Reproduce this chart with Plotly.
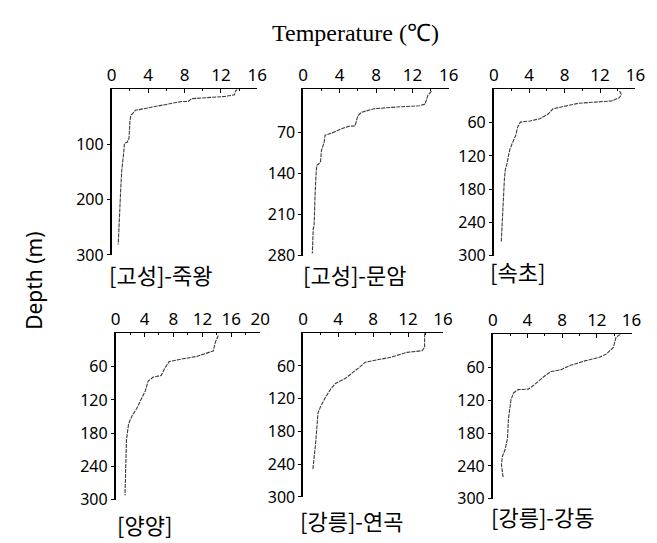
import plotly.graph_objects as go

W, H = 657, 543

# ---- data (temperature °C, depth m) ----
t1 = [13.8, 13.6, 13.5, 12.4, 8.8, 8.4, 7.7, 6.2, 4.8, 3.7, 2.6, 2.3, 2.1, 2.0, 1.9, 1.7, 1.4, 1.3, 1.1, 1.0, 0.9, 0.83, 0.72]
d1 = [0, 3, 10, 13, 17, 22, 22, 27, 31, 34, 38, 44, 47, 59, 89, 96, 98, 118, 148, 178, 213, 237, 281]

t2 = [14.1, 13.7, 13.4, 12.8, 10.3, 7.8, 6.4, 6.0, 5.7, 5.0, 4.2, 3.2, 2.4, 2.3, 2.0, 1.9, 1.5, 1.4, 1.3, 1.2, 1.1, 1.0]
d2 = [0, 7, 22, 25, 27, 30, 36, 42, 59, 60, 64, 71, 75, 87, 101, 121, 126, 143, 177, 228, 234, 276]

t3 = [14.2, 14.4, 14.2, 13.3, 9.6, 8.5, 6.7, 6.1, 5.2, 4.1, 3.0, 2.7, 2.5, 2.1, 1.8, 1.5, 1.3, 1.2, 1.1, 1.0, 0.9, 0.85]
d3 = [3, 9, 15, 21, 25, 29, 35, 45, 53, 57, 59, 68, 82, 97, 109, 133, 145, 162, 189, 224, 241, 274]

t4 = [14.2, 13.8, 13.5, 12.4, 11.1, 9.3, 7.4, 6.8, 6.3, 5.2, 4.5, 4.1, 3.4, 2.9, 2.3, 1.8, 1.5, 1.4, 1.3]
d4 = [4, 16, 32, 36, 42, 46, 51, 63, 76, 79, 86, 104, 122, 136, 148, 163, 192, 228, 292]

t5 = [13.9, 13.9, 13.6, 11.9, 10.0, 8.2, 7.1, 6.7, 5.8, 4.8, 3.7, 3.2, 2.6, 2.0, 1.7, 1.6, 1.4, 1.2, 1.1]
d5 = [0, 26, 32, 35, 44, 50, 53, 59, 71, 83, 92, 101, 116, 134, 146, 169, 205, 235, 250]

t6 = [14.7, 14.2, 13.9, 13.1, 12.3, 10.5, 8.9, 7.8, 6.7, 5.9, 4.8, 4.1, 2.9, 2.4, 2.1, 2.0, 1.8, 1.7, 1.4, 1.1, 1.0, 1.05, 1.2]
d6 = [0, 6, 24, 36, 42, 49, 57, 65, 68, 77, 92, 100, 101, 107, 119, 131, 155, 190, 211, 223, 238, 244, 262]

temps = [t1, t2, t3, t4, t5, t6]
depths = [d1, d2, d3, d4, d5, d6]
labels = ["[고성]-죽왕", "[고성]-문암", "[속초]", "[양양]", "[강릉]-연곡", "[강릉]-강동"]

x_ticks = [[0, 4, 8, 12, 16]] * 3 + [[0, 4, 8, 12, 16, 20], [0, 4, 8, 12, 16], [0, 4, 8, 12, 16]]
x_ranges = [[0, 16]] * 3 + [[0, 20], [0, 16], [0, 16]]
y_ticks = [[100, 200, 300], [70, 140, 210, 280], [60, 120, 180, 240, 300],
           [60, 120, 180, 240, 300], [60, 120, 180, 240, 300], [60, 120, 180, 240, 300]]
y_ranges = [[300, 0], [280, -3], [300, 0], [300, 0], [300, 0], [300, 0]]

# ---- layout geometry (pixels) ----
boxes = [  # x0, x1, ytop, ybottom
    (101, 250, 83, 252),
    (297, 446, 83, 253),
    (492, 637, 83, 253),
    (105, 253, 332, 502),
    (297, 440, 332, 499),
    (491, 633, 333, 501),
]
label_pos = [(96, 271), (295, 271), (486, 268), (104, 527), (292, 523), (487, 519)]

fig = go.Figure()
layout = dict(
    width=W, height=H,
    margin=dict(l=0, r=0, t=0, b=0),
    paper_bgcolor="white", plot_bgcolor="white",
    showlegend=False,
    font=dict(family="Noto Sans, DejaVu Sans, sans-serif", size=14, color="black"),
)

for i in range(6):
    n = i + 1
    xa = "x" if n == 1 else f"x{n}"
    ya = "y" if n == 1 else f"y{n}"
    fig.add_trace(go.Scatter(
        x=temps[i], y=depths[i], mode="lines",
        line=dict(color="#3a3a3a", width=1.1, dash="4px,1px"),
        xaxis=xa, yaxis=ya, hoverinfo="skip",
    ))
    x0, x1, yt, yb = boxes[i]
    layout[f"xaxis{n}"] = dict(
        domain=[x0 / W, x1 / W], anchor=ya, side="top",
        range=x_ranges[i], tickvals=x_ticks[i], ticks="inside", ticklen=4,
        tickcolor="black", showline=True, linecolor="black", linewidth=1.3,
        showgrid=False, zeroline=False,
        minor=dict(dtick=2, tick0=0, ticks="inside", ticklen=2, tickcolor="black"),
        tickfont=dict(size=17), fixedrange=True,
    )
    layout[f"yaxis{n}"] = dict(
        domain=[1 - yb / H, 1 - yt / H], anchor=xa,
        range=y_ranges[i], tickvals=y_ticks[i], ticks="outside", ticklen=3,
        tickcolor="black", showline=True, linecolor="black", linewidth=1.6,
        showgrid=False, zeroline=False, tickfont=dict(size=16), fixedrange=True,
    )

annotations = []
for (lx, ly), txt in zip(label_pos, labels):
    annotations.append(dict(
        x=lx / W, y=1 - ly / H, xref="paper", yref="paper", text=txt,
        showarrow=False, xanchor="left", yanchor="middle",
        font=dict(family="Noto Sans CJK KR, Noto Sans, sans-serif", size=22, color="black"),
    ))
annotations.append(dict(
    x=350 / W, y=1 - 26 / H, xref="paper", yref="paper", text="Temperature (℃)",
    showarrow=False, xanchor="center", yanchor="middle",
    font=dict(family="Liberation Serif, Times New Roman, serif", size=24, color="black"),
))
annotations.append(dict(
    x=22 / W, y=1 - 278 / H, xref="paper", yref="paper", text="Depth (m)",
    showarrow=False, xanchor="center", yanchor="middle", textangle=-90,
    font=dict(family="Noto Sans, DejaVu Sans, sans-serif", size=21, color="black"),
))
layout["annotations"] = annotations

fig.update_layout(**layout)
fig.write_html("out.html")
